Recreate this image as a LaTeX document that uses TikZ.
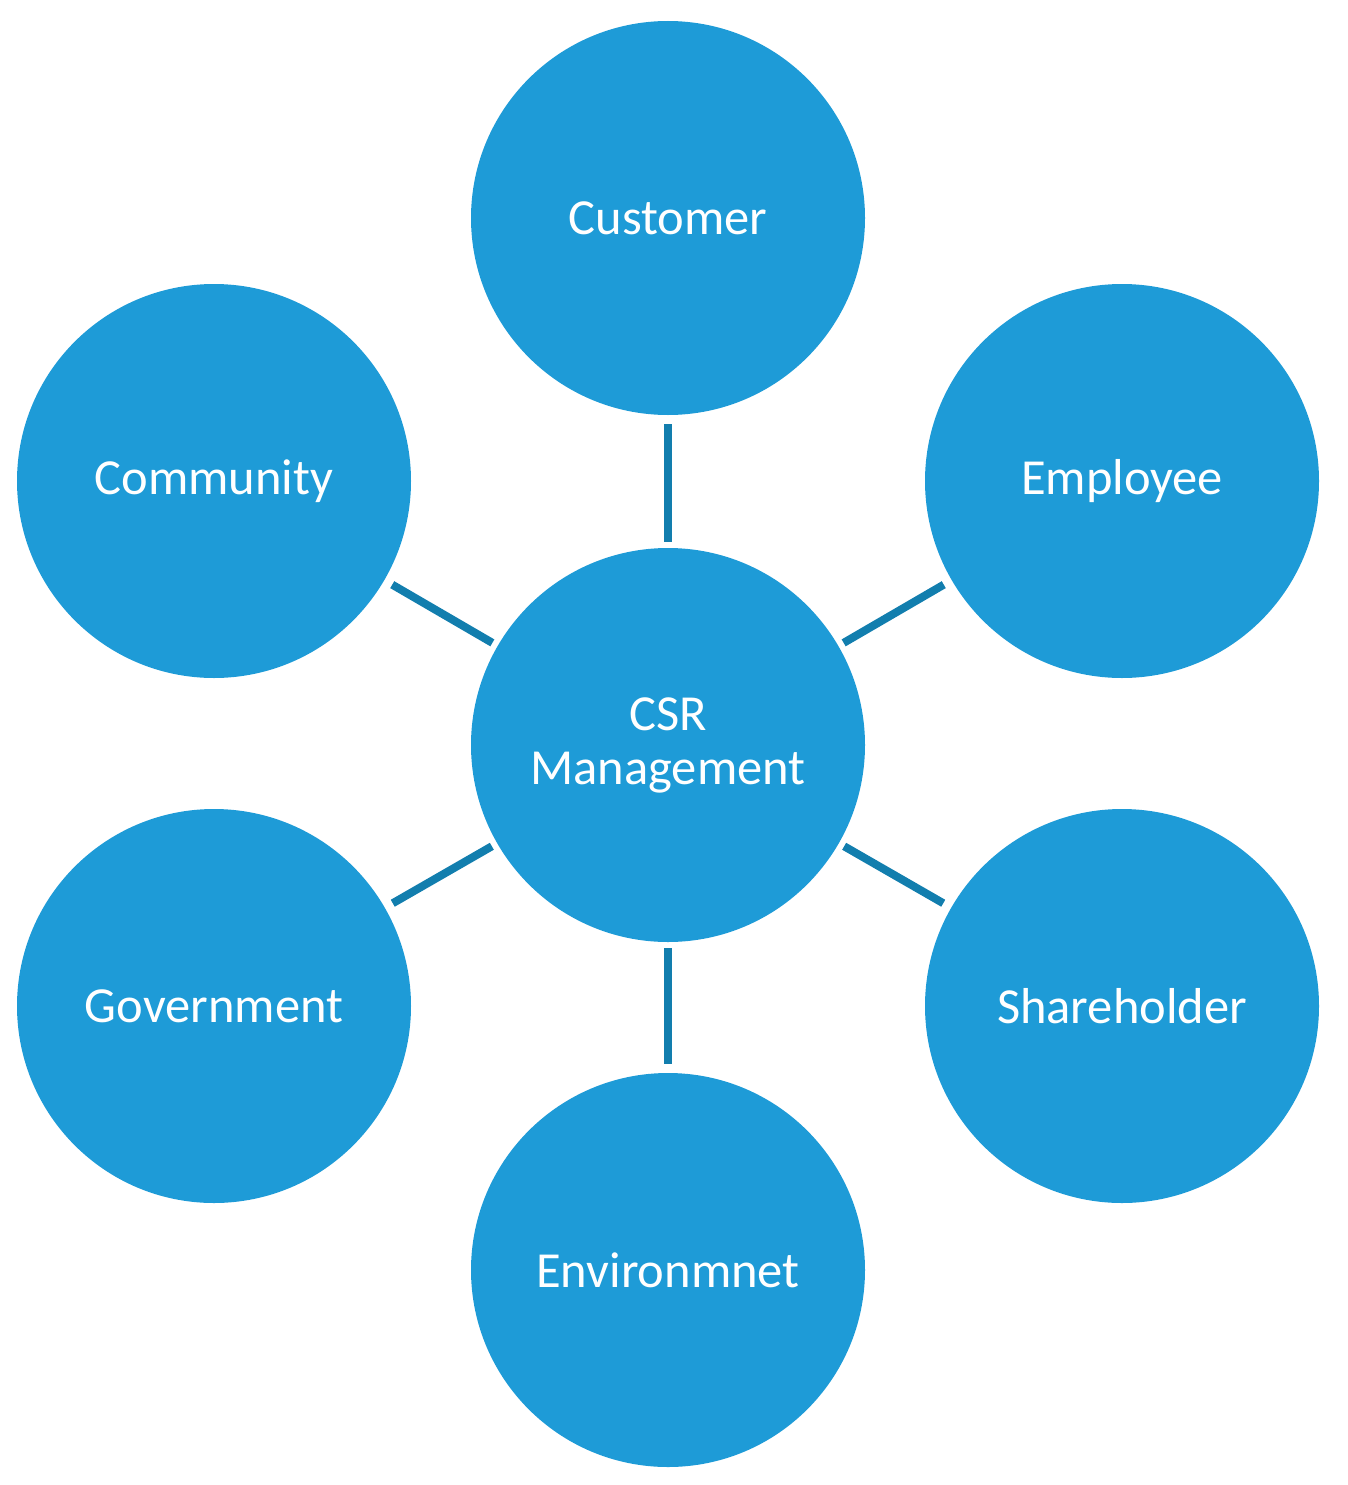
\documentclass[tikz,border=0pt]{standalone}
\usepackage{fontspec}
\setmainfont{Carlito}
\definecolor{bubble}{HTML}{1E9BD7}
\definecolor{link}{HTML}{127EAE}
\begin{document}
\begin{tikzpicture}[x=1pt,y=-1pt,
  bubblenode/.style={circle,fill=bubble,draw=none,minimum size=394pt,inner sep=0pt,
    text=white,font=\fontsize{50.5}{54}\selectfont,align=center},
  linkline/.style={draw=link,line width=8pt,shorten >=6pt,shorten <=9pt}]
\useasboundingbox (0,0) rectangle (1347,1485);
\node[bubblenode] (csr) at (668,745) {CSR\\Management};
\node[bubblenode] (cust) at (668,218) {Customer};
\node[bubblenode] (emp) at (1122,481) {Employee};
\node[bubblenode] (comm) at (214,481) {Community};
\node[bubblenode] (gov) at (214,1006) {Government};
\node[bubblenode] (share) at (1122,1006) {Shareholder};
\node[bubblenode] (env) at (668,1270) {Environmnet};
\draw[linkline] (cust) -- (csr);
\draw[linkline] (emp) -- (csr);
\draw[linkline] (comm) -- (csr);
\draw[linkline] (gov) -- (csr);
\draw[linkline] (share) -- (csr);
\draw[linkline] (env) -- (csr);
\end{tikzpicture}
\end{document}
